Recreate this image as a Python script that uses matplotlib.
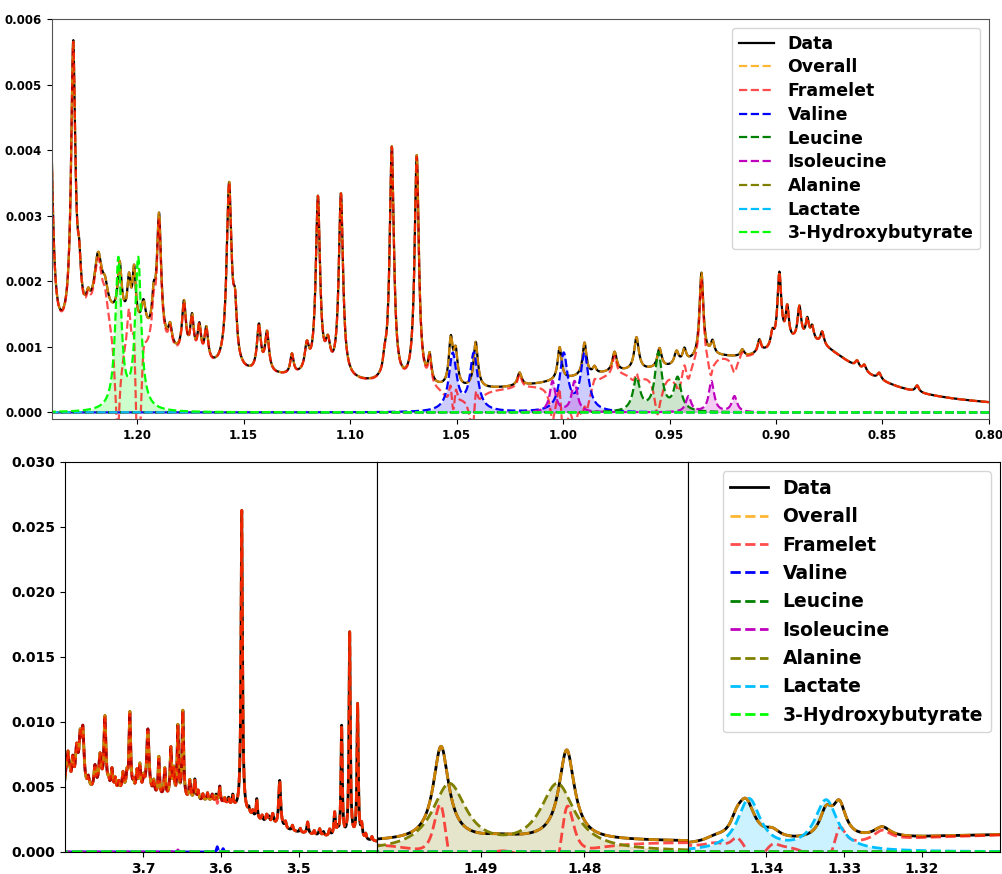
import numpy as np
import matplotlib.pyplot as plt
from matplotlib.ticker import FormatStrFormatter

plt.rcParams['font.family'] = 'DejaVu Sans'
plt.rcParams['font.weight'] = 'bold'

# ------------------------------------------------------------
# spectrum, peak by peak: (shift [ppm], height, half width [ppm])
# ------------------------------------------------------------
# 1.24 - 0.80 ppm (methyl region)
spec_top = [
    # broad background
    (1.215, 0.0013, 0.035), (1.12, 0.0003, 0.06), (0.975, 0.0004, 0.05),
    (0.885, 0.0009, 0.03), (0.93, 0.0003, 0.02),
    # resolved lines
    (1.2410, 0.0040, 0.0015), (1.2300, 0.0043, 0.0012), (1.2272, 0.0006, 0.0010),
    (1.2230, 0.0002, 0.0010), (1.2183, 0.0009, 0.0022), (1.2150, 0.0003, 0.0015),
    (1.2082, 0.0008, 0.0011), (1.2038, 0.0006, 0.0009), (1.2014, 0.0008, 0.0009),
    (1.1970, 0.0004, 0.0012), (1.1922, 0.0005, 0.0010), (1.1897, 0.0019, 0.0012),
    (1.1845, 0.0003, 0.0010), (1.1780, 0.0008, 0.0011), (1.1742, 0.0006, 0.0010),
    (1.1708, 0.0005, 0.0010), (1.1675, 0.0005, 0.0010), (1.1568, 0.0028, 0.0014),
    (1.1540, 0.0007, 0.0010), (1.1428, 0.0007, 0.0011), (1.1390, 0.0006, 0.0011),
    (1.1273, 0.0003, 0.0009), (1.1203, 0.0004, 0.0012), (1.1151, 0.0027, 0.0012),
    (1.1104, 0.0004, 0.0013), (1.1043, 0.0028, 0.0012), (1.0837, 0.0002, 0.0009),
    (1.0804, 0.0036, 0.0012), (1.0687, 0.0035, 0.0012), (1.0626, 0.0004, 0.0009),
    (1.0527, 0.0007, 0.0011), (1.0504, 0.0005, 0.0011), (1.0410, 0.0007, 0.0012),
    (1.0204, 0.0002, 0.0012), (1.0016, 0.0005, 0.0011), (0.9899, 0.0005, 0.0011),
    (0.9852, 0.0001, 0.0009), (0.9758, 0.0003, 0.0012), (0.9655, 0.0005, 0.0013),
    (0.9547, 0.0003, 0.0012), (0.9467, 0.0002, 0.0012), (0.9430, 0.0002, 0.0010),
    (0.9350, 0.0013, 0.0011), (0.9298, 0.0002, 0.0010), (0.9158, 0.0001, 0.0010),
    (0.9078, 0.0002, 0.0010), (0.9017, 0.0002, 0.0009), (0.8984, 0.0011, 0.0011),
    (0.8947, 0.0005, 0.0009), (0.8890, 0.0005, 0.0010), (0.8853, 0.0003, 0.0009),
    (0.8830, 0.0002, 0.0009), (0.8783, 0.0002, 0.0010), (0.8619, 0.0001, 0.0010),
    (0.8585, 0.0001, 0.0010), (0.8515, 0.0001, 0.0010), (0.8337, 0.0001, 0.0010),
]

# 3.80 - 3.40 ppm
spec_mid = [
    (3.75, 0.0045, 0.15), (3.60, 0.0015, 0.05),
    (3.7985, 0.0015, 0.0020), (3.7960, 0.0025, 0.0015), (3.7935, 0.0008, 0.0012),
    (3.7900, 0.0022, 0.0015), (3.7850, 0.0030, 0.0020), (3.7805, 0.0035, 0.0018),
    (3.7770, 0.0042, 0.0018), (3.7700, 0.0008, 0.0015), (3.7615, 0.0017, 0.0015),
    (3.7550, 0.0025, 0.0018), (3.7487, 0.0055, 0.0015), (3.7440, 0.0005, 0.0010),
    (3.7397, 0.0015, 0.0012), (3.7355, 0.0008, 0.0010), (3.7310, 0.0006, 0.0010),
    (3.7256, 0.0013, 0.0012), (3.7205, 0.0012, 0.0012), (3.7167, 0.0060, 0.0012),
    (3.7120, 0.0006, 0.0010), (3.7077, 0.0015, 0.0012), (3.7038, 0.0020, 0.0012),
    (3.6990, 0.0010, 0.0012), (3.6936, 0.0050, 0.0018), (3.6860, 0.0010, 0.0012),
    (3.6795, 0.0030, 0.0010), (3.6718, 0.0022, 0.0012), (3.6641, 0.0038, 0.0012),
    (3.6603, 0.0020, 0.0010), (3.6551, 0.0055, 0.0010), (3.6487, 0.0068, 0.0012),
    (3.6397, 0.0015, 0.0012), (3.6333, 0.0016, 0.0012), (3.6290, 0.0007, 0.0010),
    (3.6230, 0.0005, 0.0010), (3.6170, 0.0006, 0.0010), (3.6110, 0.0005, 0.0010),
    (3.6060, 0.0005, 0.0010), (3.6013, 0.0012, 0.0010), (3.5950, 0.0004, 0.0010),
    (3.5900, 0.0005, 0.0010), (3.5846, 0.0008, 0.0010), (3.5731, 0.0232, 0.0011),
    (3.5640, 0.0004, 0.0010), (3.5590, 0.0004, 0.0010), (3.5538, 0.0015, 0.0010),
    (3.5470, 0.0004, 0.0010), (3.5410, 0.0006, 0.0015), (3.5380, 0.0004, 0.0010),
    (3.5333, 0.0008, 0.0015), (3.5244, 0.0036, 0.0015), (3.5170, 0.0005, 0.0012),
    (3.5080, 0.0004, 0.0010), (3.4980, 0.0003, 0.0010), (3.4885, 0.0009, 0.0012),
    (3.4800, 0.0003, 0.0010), (3.4731, 0.0005, 0.0012), (3.4680, 0.0003, 0.0010),
    (3.4603, 0.0005, 0.0012), (3.4538, 0.0018, 0.0012), (3.4500, 0.0005, 0.0010),
    (3.4449, 0.0085, 0.0010), (3.4346, 0.0158, 0.0010), (3.4244, 0.0103, 0.0010),
    (3.4192, 0.0010, 0.0012), (3.4140, 0.0004, 0.0010), (3.4060, 0.0003, 0.0010),
]

# 1.50 - 1.47 ppm
spec_ala = [
    (1.485, 0.0009, 0.05),
    (1.4938, 0.0072, 0.0009), (1.4817, 0.0069, 0.0009),
    (1.4880, 0.0002, 0.0020),
]

# 1.35 - 1.31 ppm
spec_lac = [
    (1.30, 0.0014, 0.04),
    (1.3426, 0.0030, 0.0014), (1.3438, 0.0009, 0.0009), (1.3465, 0.0003, 0.0015),
    (1.3392, 0.0006, 0.0012), (1.3323, 0.0020, 0.0010), (1.3306, 0.0025, 0.0010),
    (1.3251, 0.0008, 0.0013),
]

# ------------------------------------------------------------
# fitted metabolite signals
# ------------------------------------------------------------
valine = [(1.0518, 0.00087, 0.0022), (1.0419, 0.00087, 0.0022),
          (0.9997, 0.00087, 0.0022), (0.9899, 0.00087, 0.0022),
          (3.6045, 0.00040, 0.0010), (3.5970, 0.00025, 0.0010)]
leucine = [(0.9655, 0.00050, 0.0020), (0.9552, 0.00088, 0.0020),
           (0.9462, 0.00050, 0.0020)]
isoleucine = [(1.0049, 0.00047, 0.0016), (0.9946, 0.00047, 0.0016),
              (0.9411, 0.00024, 0.0015), (0.9303, 0.00047, 0.0015),
              (0.9195, 0.00024, 0.0015),
              (3.6595, 0.00020, 0.0010), (3.6550, 0.00015, 0.0010)]
alanine = [(1.4930, 0.0051, 0.0020), (1.4826, 0.0051, 0.0020)]
lactate = [(1.3422, 0.0040, 0.00178), (1.3323, 0.0039, 0.00178)]
hydroxybutyrate = [(1.2088, 0.0023, 0.0017), (1.1995, 0.0023, 0.0017)]

metabolites = [
    ('Valine', valine, 'blue'),
    ('Leucine', leucine, 'green'),
    ('Isoleucine', isoleucine, 'm'),
    ('Alanine', alanine, 'olive'),
    ('Lactate', lactate, 'deepskyblue'),
    ('3-Hydroxybutyrate', hydroxybutyrate, 'lime'),
]


def lorentz(x, peaks):
    y = np.zeros_like(x)
    for c, h, w in peaks:
        y += h / (1.0 + ((x - c) / w) ** 2)
    return y


def draw(ax, lo, hi, spec, lw=1.5):
    x = np.linspace(lo, hi, 5000)
    data = lorentz(x, spec)
    comps = [lorentz(x, p) for _, p, _ in metabolites]
    fitted = np.sum(comps, axis=0)
    framelet = data - fitted
    overall = framelet + fitted

    ax.plot(x, data, '-', color='k', lw=lw, label='Data')
    ax.plot(x, overall, '--', color='orange', alpha=0.8, lw=lw, label='Overall')
    ax.plot(x, framelet, '--', color='red', alpha=0.7, lw=lw, label='Framelet')
    for (name, _, col), y in zip(metabolites, comps):
        ax.plot(x, y, '--', color=col, lw=lw, label=name)
        ax.fill_between(x, 0, y, color=col, alpha=0.2, lw=0)
    ax.set_xlim(hi, lo)


fig = plt.figure(figsize=(10.03, 8.74), dpi=100)

# top: 1.24 - 0.80 ppm
ax = fig.add_axes([0.0518, 0.5206, 0.9342, 0.4577])
draw(ax, 0.80, 1.24, spec_top, lw=1.6)
ax.set_ylim(-0.0001, 0.006)
ax.set_xticks(np.arange(0.80, 1.201, 0.05))
ax.set_yticks(np.arange(0, 0.0061, 0.001))
ax.xaxis.set_major_formatter(FormatStrFormatter('%.2f'))
ax.yaxis.set_major_formatter(FormatStrFormatter('%.3f'))
ax.tick_params(labelsize=8.5)
for s in ax.spines.values():
    s.set_color('#555555')
ax.legend(loc='upper right', prop={'size': 12.5, 'weight': 'bold'},
          labelspacing=0.33)

# bottom: three windows side by side
windows = [(3.40, 3.80, spec_mid, [3.7, 3.6, 3.5], '%.1f'),
           (1.47, 1.50, spec_ala, [1.49, 1.48], '%.2f'),
           (1.31, 1.35, spec_lac, [1.34, 1.33, 1.32], '%.2f')]
left, width = 0.0648, 0.3107
axes = []
for i, (lo, hi, spec, ticks, fmt) in enumerate(windows):
    a = fig.add_axes([left + i * width, 0.0252, width, 0.4462])
    draw(a, lo, hi, spec, lw=2.0)
    a.set_ylim(0, 0.030)
    a.set_xticks(ticks)
    a.xaxis.set_major_formatter(FormatStrFormatter(fmt))
    a.tick_params(labelsize=10)
    if i == 0:
        a.set_yticks(np.arange(0, 0.0301, 0.005))
        a.yaxis.set_major_formatter(FormatStrFormatter('%.3f'))
    else:
        a.tick_params(left=False, labelleft=False)
    axes.append(a)

axes[-1].legend(loc='upper right', prop={'size': 13.5, 'weight': 'bold'})

fig.savefig('out.png', dpi=100)
